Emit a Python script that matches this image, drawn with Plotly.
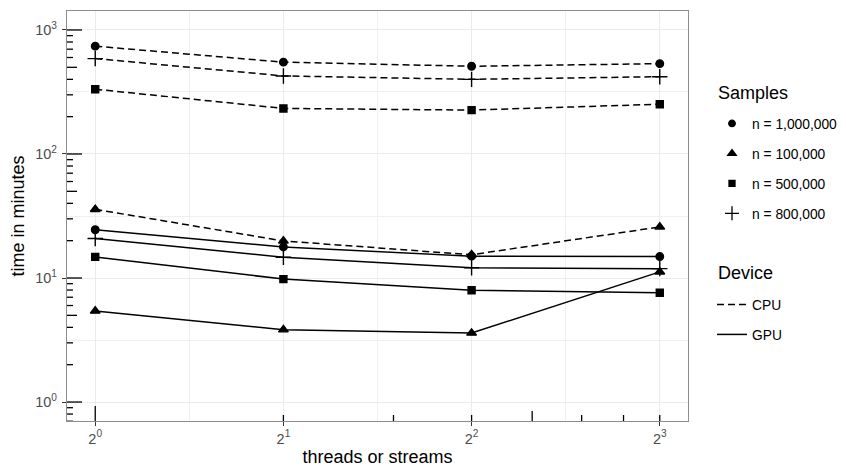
import math
import plotly.graph_objects as go

threads = [1, 2, 4, 8]
x_tick_text = ["2<sup>0</sup>", "2<sup>1</sup>", "2<sup>2</sup>", "2<sup>3</sup>"]
y_tick_vals = [1, 10, 100, 1000]
y_tick_text = ["10<sup>0</sup>", "10<sup>1</sup>", "10<sup>2</sup>", "10<sup>3</sup>"]

sample_labels = ["n = 1,000,000", "n = 100,000", "n = 500,000", "n = 800,000"]
sample_symbols = ["circle", "triangle-up", "square", "cross-thin"]
sample_sizes = [7.5, 8.5, 7, 11]

cpu_1m = [740, 550, 510, 535]
cpu_100k = [35.8, 19.9, 15.4, 25.8]
cpu_500k = [333, 233, 226, 252]
cpu_800k = [588, 426, 400, 420]

gpu_1m = [24.5, 17.8, 15.0, 14.9]
gpu_100k = [5.42, 3.83, 3.60, 11.2]
gpu_500k = [14.8, 9.8, 7.96, 7.6]
gpu_800k = [20.8, 14.7, 12.1, 11.9]

devices = ["CPU", "GPU"]
device_dash = {"CPU": "7px,4px", "GPU": "solid"}
series = {
    "CPU": [cpu_1m, cpu_100k, cpu_500k, cpu_800k],
    "GPU": [gpu_1m, gpu_100k, gpu_500k, gpu_800k],
}

FONT = "Liberation Sans, Arial, sans-serif"
fig = go.Figure()

for dev in devices:
    for i, vals in enumerate(series[dev]):
        fig.add_trace(go.Scatter(
            x=threads, y=vals, mode="lines+markers",
            line=dict(color="black", width=1.5, dash=device_dash[dev]),
            marker=dict(symbol=sample_symbols[i], size=sample_sizes[i], color="black",
                        line=dict(color="black", width=1.4)),
            showlegend=False, hoverinfo="skip"))

# legend: Samples
for i, lab in enumerate(sample_labels):
    fig.add_trace(go.Scatter(
        x=[None], y=[None], mode="markers", name=lab,
        marker=dict(symbol=sample_symbols[i], size=sample_sizes[i] - 1, color="black",
                    line=dict(color="black", width=1.3)),
        legend="legend", legendgroup="s%d" % i))
# legend: Device
for dev in devices:
    fig.add_trace(go.Scatter(
        x=[None], y=[None], mode="lines", name=dev,
        line=dict(color="black", width=1.5, dash=device_dash[dev]),
        legend="legend2", legendgroup="d" + dev))

# log ticks (annotation_logticks style)
shapes = []
def tick_len(k):
    return 15 if k == 1 else (10 if k == 5 else 6)

for d in [-1, 0, 1, 2, 3]:
    for k in range(1, 10):
        v = k * 10 ** d
        if 0.70 < v < 1420:
            shapes.append(dict(type="line", xref="x domain", yref="y", xsizemode="pixel",
                               xanchor=0, x0=0, x1=tick_len(k), y0=v, y1=v,
                               line=dict(color="black", width=1.3)))
for k in range(1, 10):
    if 0.9015 < k < 8.87:
        shapes.append(dict(type="line", xref="x", yref="y domain", ysizemode="pixel",
                           yanchor=0, y0=0, y1=tick_len(k), x0=k, x1=k,
                           line=dict(color="black", width=1.3)))

# page body has an 8px margin: work in figure coordinates = window - 8
OFF = 8
W, H = 846 - OFF, 467 - OFF
L, R, T, B = 67 - OFF, 688 - OFF, 11 - OFF, 421 - OFF
pw, ph = R - L, B - T

annotations = [
    dict(text="Samples", xref="paper", yref="paper", x=(716 - OFF - L) / pw, y=1 - (93 - OFF - T) / ph,
         xanchor="left", yanchor="middle", showarrow=False, font=dict(size=18, color="black")),
    dict(text="Device", xref="paper", yref="paper", x=(716 - OFF - L) / pw, y=1 - (273 - OFF - T) / ph,
         xanchor="left", yanchor="middle", showarrow=False, font=dict(size=18, color="black")),
]

fig.update_layout(
    width=W, height=H,
    margin=dict(l=L, r=W - R, t=T, b=H - B),
    paper_bgcolor="white", plot_bgcolor="white",
    font=dict(family=FONT, color="black"),
    shapes=shapes,
    annotations=annotations,
    xaxis=dict(
        type="log", range=[-0.15 * math.log10(2), 3.15 * math.log10(2)],
        tickvals=threads, ticktext=x_tick_text,
        tickfont=dict(size=14.5, color="#4D4D4D"),
        ticks="outside", ticklen=4, tickwidth=1.2, tickcolor="#333333",
        showgrid=True, gridcolor="#EBEBEB", gridwidth=1.2,
        minor=dict(tickvals=[2 ** 0.5, 2 ** 1.5, 2 ** 2.5], showgrid=True,
                   gridcolor="#F0F0F0", gridwidth=1, ticks=""),
        showline=True, mirror=True, linecolor="#8C8C8C", linewidth=1.2,
        zeroline=False, automargin=False,
        title=dict(text="threads or streams", font=dict(size=18), standoff=8),
    ),
    yaxis=dict(
        type="log", range=[-0.153, 3.153],
        tickvals=y_tick_vals, ticktext=y_tick_text,
        tickfont=dict(size=14.5, color="#4D4D4D"),
        ticks="outside", ticklen=4, tickwidth=1.2, tickcolor="#333333",
        ticklabelstandoff=2,
        showgrid=True, gridcolor="#EBEBEB", gridwidth=1.2,
        minor=dict(tickvals=[10 ** 0.5, 10 ** 1.5, 10 ** 2.5], showgrid=True,
                   gridcolor="#F0F0F0", gridwidth=1, ticks=""),
        showline=True, mirror=True, linecolor="#8C8C8C", linewidth=1.2,
        zeroline=False, automargin=False,
        title=dict(text="time in minutes", font=dict(size=18), standoff=5),
    ),
    legend=dict(
        xref="container", yref="container", x=(712 - OFF) / W, y=1 - 100 / H,
        xanchor="left", yanchor="top",
        font=dict(size=13.8), tracegroupgap=9, bgcolor="rgba(0,0,0,0)",
    ),
    legend2=dict(
        xref="container", yref="container", x=(712 - OFF) / W, y=1 - 281 / H,
        xanchor="left", yanchor="top",
        font=dict(size=13.8), tracegroupgap=9, bgcolor="rgba(0,0,0,0)",
    ),
)

fig.write_html("out.html")
